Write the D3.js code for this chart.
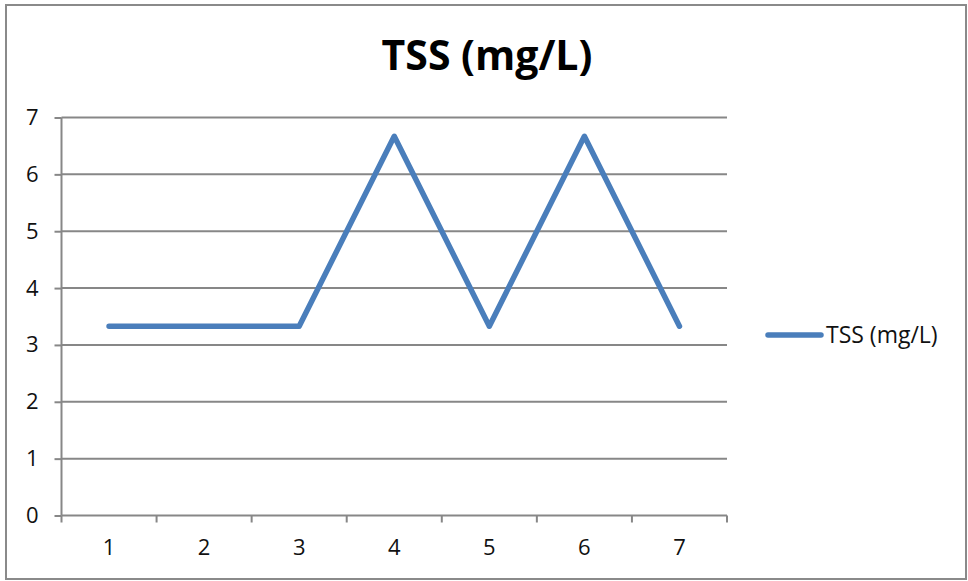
<!DOCTYPE html>
<html><head><meta charset="utf-8">
<script src="https://cdn.jsdelivr.net/npm/d3@7"></script>
<style>html,body{margin:0;padding:0;background:#fff;}</style>
</head><body>
<svg id="c" width="968" height="581"></svg>
<script>
const categories = ["1","2","3","4","5","6","7"];
const values = [3.33, 3.33, 3.33, 6.67, 3.33, 6.67, 3.33];
const yTicks = [0,1,2,3,4,5,6,7];
const seriesName = "TSS (mg/L)";
const title = "TSS (mg/L)";

const svg = d3.select("#c");
const font = "'Open Sans', Lato, 'Liberation Sans', sans-serif";
const grid = "#878787";

svg.append("rect").attr("x",6).attr("y",5).attr("width",960).attr("height",574)
  .attr("fill","#fff").attr("stroke","#8a8a8a").attr("stroke-width",2);

const L=61.5, R=727, T=117.5, B=515.5;
const x = d3.scaleBand().domain(categories).range([L,R]);
const y = d3.scaleLinear().domain([0,7]).range([B,T]);

// gridlines
svg.append("g").selectAll("line").data(yTicks.filter(d=>d>0)).join("line")
  .attr("x1",L).attr("x2",R).attr("y1",d=>y(d)).attr("y2",d=>y(d))
  .attr("stroke",grid).attr("stroke-width",2);

// y axis
const ya = svg.append("g").attr("transform",`translate(${L},0)`)
  .call(d3.axisLeft(y).tickValues(yTicks).tickSize(7).tickPadding(16).tickFormat(d3.format("d")));
ya.select(".domain").attr("stroke",grid).attr("stroke-width",2).attr("d",`M0,${T}V${B}`);
ya.selectAll(".tick line").attr("stroke",grid).attr("stroke-width",2);
ya.selectAll("text").attr("font-family",font).attr("font-size",22).attr("fill","#111");

// x axis
const xa = svg.append("g").attr("transform",`translate(0,${B})`)
  .call(d3.axisBottom(x).tickSize(0).tickPadding(24));
xa.select(".domain").attr("stroke",grid).attr("stroke-width",2).attr("d",`M${L},0H${R}`);
xa.selectAll("text").attr("font-family",font).attr("font-size",22).attr("fill","#111");
const bounds = categories.map(c=>x(c)).concat([R]);
svg.append("g").selectAll("line").data(bounds).join("line")
  .attr("x1",d=>d).attr("x2",d=>d).attr("y1",B).attr("y2",B+7)
  .attr("stroke",grid).attr("stroke-width",2);

// line
const line = d3.line().x((d,i)=>x(categories[i])+x.bandwidth()/2).y(d=>y(d));
svg.append("path").datum(values).attr("d",line).attr("fill","none")
  .attr("stroke","#4a7ebb").attr("stroke-width",5.5).attr("stroke-linejoin","round").attr("stroke-linecap","round");

// title
svg.append("text").attr("x",487).attr("y",70).attr("text-anchor","middle")
  .attr("font-family",font).attr("font-weight","bold").attr("font-size",41).attr("fill","#000").text(title);

// legend
svg.append("line").attr("x1",768).attr("x2",821).attr("y1",335).attr("y2",335)
  .attr("stroke","#4a7ebb").attr("stroke-width",5.5).attr("stroke-linecap","round");
svg.append("text").attr("x",826).attr("y",343).attr("font-family",font).attr("font-size",23)
  .attr("fill","#111").text(seriesName);
</script>
</body></html>
